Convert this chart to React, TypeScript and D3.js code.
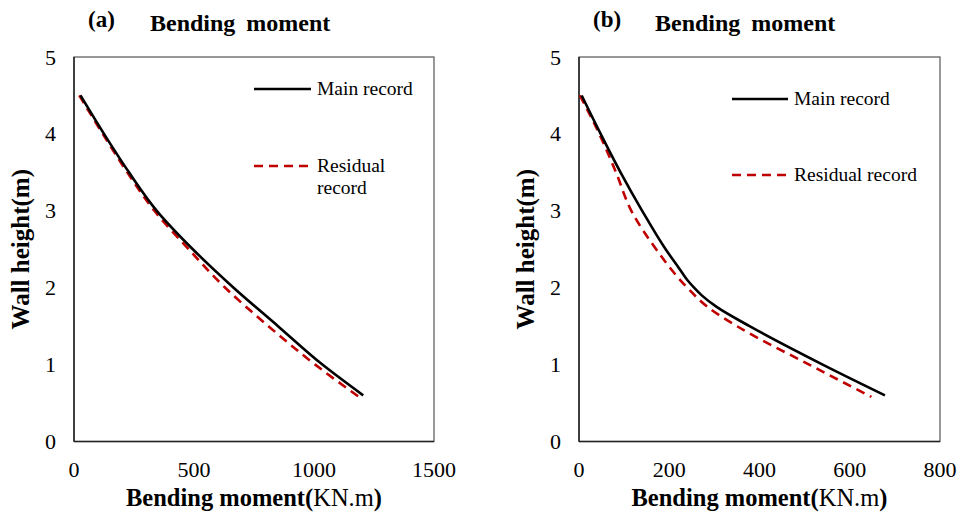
import React from "react";
import * as d3 from "d3";

// Panel (a)
const mainA_x = [27, 125, 229, 345, 495, 665, 850, 1035, 1205];
const mainA_y = [4.5, 4.0, 3.5, 3.0, 2.5, 2.0, 1.5, 1.0, 0.6];
const resA_x = [22, 120, 222, 335, 478, 630, 810, 1005, 1192];
const resA_y = [4.5, 4.0, 3.5, 3.0, 2.5, 2.0, 1.5, 1.0, 0.57];
// Panel (b)
const mainB_x = [6, 48, 92, 140, 192, 222, 240, 255, 272, 305, 378, 540, 678];
const mainB_y = [4.5, 4.0, 3.5, 3.0, 2.5, 2.25, 2.1, 2.0, 1.9, 1.75, 1.5, 1.0, 0.6];
const resB_x = [2, 45, 82, 116, 171, 240, 285, 350, 510, 648];
const resB_y = [4.5, 4.0, 3.5, 3.0, 2.5, 2.0, 1.75, 1.5, 1.0, 0.58];

const ticksA = [0, 500, 1000, 1500];
const ticksB = [0, 200, 400, 600, 800];
const ticksY = [0, 1, 2, 3, 4, 5];

const FONT = "'Liberation Serif', 'Times New Roman', serif";

type PanelProps = {
  left: number; right: number; top: number; bottom: number;
  xMax: number; xTicks: number[];
  main: [number[], number[]]; res: [number[], number[]];
  letter: string; letterX: number; titleX: number;
  yTitleX: number;
  legend: { lineX1: number; lineX2: number; mainY: number; resY: number; twoLine: boolean };
};

function Panel(p: PanelProps) {
  const x = d3.scaleLinear().domain([0, p.xMax]).range([p.left, p.right]);
  const y = d3.scaleLinear().domain([0, 5]).range([p.bottom, p.top]);
  const line = d3
    .line<[number, number]>()
    .x((d) => x(d[0]))
    .y((d) => y(d[1]))
    .curve(d3.curveMonotoneY);
  const mainPts: [number, number][] = p.main[0].map((v, i) => [v, p.main[1][i]]);
  const resPts: [number, number][] = p.res[0].map((v, i) => [v, p.res[1][i]]);
  const cx = (p.left + p.right) / 2;
  const cy = (p.top + p.bottom) / 2;
  return (
    <g fontFamily={FONT}>
      <text x={p.letterX} y={27} fontSize={23} fontWeight="bold">{p.letter}</text>
      <text x={p.titleX} y={31} fontSize={24} fontWeight="bold" wordSpacing={5}>Bending moment</text>
      <rect x={p.left} y={p.top} width={p.right - p.left} height={p.bottom - p.top}
        fill="none" stroke="#555" strokeWidth={1.2} />
      <line x1={p.left} x2={p.right} y1={p.bottom} y2={p.bottom} stroke="#222" strokeWidth={1.5} />
      <line x1={p.left} x2={p.left} y1={p.top} y2={p.bottom} stroke="#222" strokeWidth={1.5} />
      {ticksY.map((t) => (
        <text key={t} x={p.left - 18} y={y(t)} fontSize={22} textAnchor="end" dominantBaseline="central">{t}</text>
      ))}
      {p.xTicks.map((t) => (
        <text key={t} x={x(t)} y={477} fontSize={22} textAnchor="middle">{t}</text>
      ))}
      <text x={cx} y={506} fontSize={24.5} textAnchor="middle" fontWeight="bold">
        Bending moment(<tspan fontWeight="normal">KN.m</tspan>)
      </text>
      <text transform={`translate(${p.yTitleX},${cy}) rotate(-90)`} fontSize={25}
        textAnchor="middle" fontWeight="bold">Wall height(m)</text>
      <path d={line(resPts) ?? ""} fill="none" stroke="#C00000" strokeWidth={2.6} strokeDasharray="9,6" />
      <path d={line(mainPts) ?? ""} fill="none" stroke="#000" strokeWidth={2.6} />
      <line x1={p.legend.lineX1} x2={p.legend.lineX2} y1={p.legend.mainY} y2={p.legend.mainY} stroke="#000" strokeWidth={2.6} />
      <text x={p.legend.lineX2 + 6} y={p.legend.mainY + 6} fontSize={19.5}>Main record</text>
      <line x1={p.legend.lineX1} x2={p.legend.lineX2} y1={p.legend.resY} y2={p.legend.resY} stroke="#C00000" strokeWidth={2.6} strokeDasharray="9,6" />
      {p.legend.twoLine ? (
        <>
          <text x={p.legend.lineX2 + 6} y={p.legend.resY + 6} fontSize={19.5}>Residual</text>
          <text x={p.legend.lineX2 + 6} y={p.legend.resY + 28} fontSize={19.5}>record</text>
        </>
      ) : (
        <text x={p.legend.lineX2 + 6} y={p.legend.resY + 6} fontSize={19.5}>Residual record</text>
      )}
    </g>
  );
}

export default function App() {
  return (
    <svg width={959} height={513} style={{ display: "block", position: "absolute", left: 0, top: 0 }}>
      <rect x={0} y={0} width={959} height={513} fill="#fff" />
      <Panel left={74} right={434} top={57} bottom={441.5} xMax={1500} xTicks={ticksA}
        main={[mainA_x, mainA_y]} res={[resA_x, resA_y]}
        letter="(a)" letterX={88} titleX={150} yTitleX={29}
        legend={{ lineX1: 254, lineX2: 311, mainY: 89, resY: 166, twoLine: true }} />
      <Panel left={579} right={940} top={57} bottom={441.5} xMax={800} xTicks={ticksB}
        main={[mainB_x, mainB_y]} res={[resB_x, resB_y]}
        letter="(b)" letterX={593} titleX={655} yTitleX={534}
        legend={{ lineX1: 732, lineX2: 788, mainY: 99, resY: 175, twoLine: false }} />
    </svg>
  );
}
